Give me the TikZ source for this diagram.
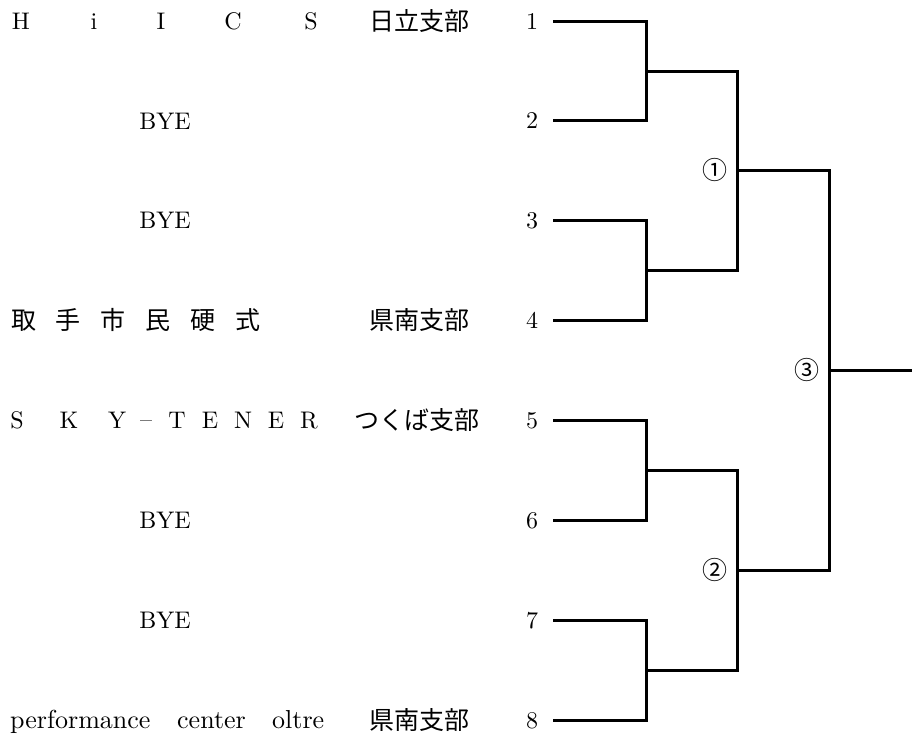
\documentclass[tikz,border=0pt]{standalone}
\usepackage{fontspec}
\setmainfont{lmroman10-regular.otf}
\newfontfamily\jpfont{Noto Sans CJK JP}
\usetikzlibrary{positioning}
\tikzset{
  txt/.style={inner sep=0pt,anchor=base,font=\fontsize{24}{30}\selectfont},
  jptxt/.style={inner sep=0pt,anchor=base east,font=\fontsize{25}{30}\selectfont\jpfont},
  bline/.style={line width=3pt,line cap=rect}
}
\begin{document}
\begin{tikzpicture}[x=1pt,y=-1pt]
\useasboundingbox (0,0) rectangle (912,740);
% seed numbers and line starts
\foreach \n in {1,...,8}{
  \node[txt] (num\n) at (532,{29+99.86*(\n-1)}) {\n};
  \coordinate (s\n) at (554,{21+99.86*(\n-1)});
}
% teams
\foreach \x/\c [count=\k] in {21/H,94/i,161/I,233/C,311/S}
  \node[txt] (ta\k) at (\x,29) {\c};
\node[jptxt] (ba1) at (470,30) {日立支部};
\node[txt] (bye2) at (165,129) {BYE};
\node[txt] (bye3) at (165,228) {BYE};
\foreach \c [count=\k] in {取,手,市,民,硬,式}
  \node[txt,font=\fontsize{25}{30}\selectfont\jpfont] (td\k) at ({23.5+44.8*(\k-1)},329) {\c};
\node[jptxt] (ba4) at (470,329) {県南支部};
\foreach \x/\c [count=\k] in {17/S,69/K,117/Y,146/\raisebox{1pt}{--},177/T,210/E,243/N,276/E,309/R}
  \node[txt] (te\k) at (\x,428) {\c};
\node[jptxt] (ba5) at (480,429) {つくば支部};
\node[txt] (bye6) at (165,528) {BYE};
\node[txt] (bye7) at (165,628) {BYE};
\node[txt,anchor=base west,font=\fontsize{26}{30}\selectfont] (th1) at (10,728) {performance};
\node[txt,anchor=base west,font=\fontsize{26}{30}\selectfont] (th2) at (177,728) {center};
\node[txt,anchor=base west,font=\fontsize{26}{30}\selectfont] (th3) at (272,728) {oltre};
\node[jptxt] (ba8) at (470,729) {県南支部};
% joints
\coordinate (m1) at (646,71);
\coordinate (m2) at (646,270);
\coordinate (m3) at (646,470);
\coordinate (m4) at (646,670);
\coordinate (q1) at (737,170);
\coordinate (q2) at (737,570);
\coordinate (f) at (829,370);
\coordinate (win) at (912,370);
% bracket
\draw[bline] (s1) -| (m1) |- (s2);
\draw[bline] (s3) -| (m2) |- (s4);
\draw[bline] (s5) -| (m3) |- (s6);
\draw[bline] (s7) -| (m4) |- (s8);
\draw[bline] (m1) -| (q1) |- (m2);
\draw[bline] (m3) -| (q2) |- (m4);
\draw[bline] (q1) -| (f) |- (q2);
\draw[bline,line cap=butt] (f) -- (win);
% match numbers
\node[inner sep=0pt,font=\fontsize{25}{30}\selectfont\jpfont,left=9pt of q1] (g1) {①};
\node[inner sep=0pt,font=\fontsize{25}{30}\selectfont\jpfont,left=9pt of q2] (g2) {②};
\node[inner sep=0pt,font=\fontsize{25}{30}\selectfont\jpfont,left=9pt of f] (g3) {③};
\end{tikzpicture}
\end{document}
